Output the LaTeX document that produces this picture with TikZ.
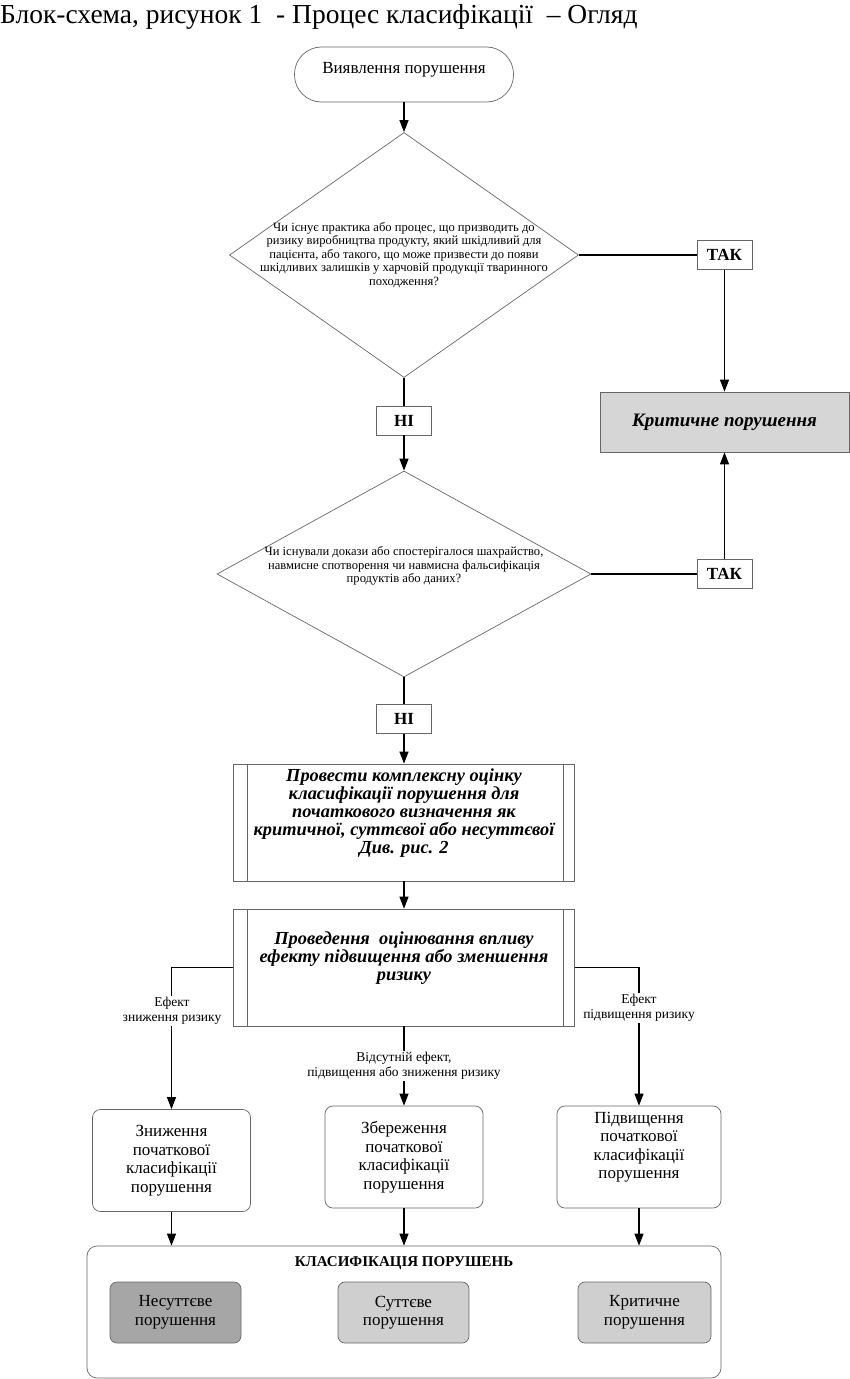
\documentclass[tikz,border=0pt]{standalone}
\usepackage{fontspec}
\setmainfont{Liberation Serif}
\usetikzlibrary{shapes.geometric,arrows.meta,calc}
\newcommand\fsz[2]{\fontsize{#1}{#2}\selectfont}
\definecolor{critgray}{HTML}{D6D6D6}
\definecolor{darkbox}{HTML}{A6A6A6}
\definecolor{lightbox}{HTML}{CFCFCF}
\definecolor{edgegray}{HTML}{666666}
\tikzset{
  conn/.style={draw=black, line width=1.1pt},
  arr/.style={conn, -{Triangle[length=12pt,width=9pt]}},
  edge/.style={draw=edgegray, line width=0.7pt},
  dia/.style={shape=diamond, edge, inner sep=0pt},
  tagbox/.style={rectangle, edge, fill=white, inner sep=0pt, minimum width=55pt, minimum height=29pt, font=\fsz{17}{19}\bfseries},
  procbox/.style={rectangle, edge, inner sep=0pt, minimum width=341pt, minimum height=117pt},
  rbox/.style={rectangle, rounded corners=8pt, edge, inner sep=0pt, minimum width=158pt, minimum height=102pt},
  clsbox/.style={rectangle, rounded corners=7pt, edge, inner sep=0pt, minimum width=131pt, minimum height=61pt, align=center, font=\fsz{17}{18.5}},
  dtext/.style={align=center, inner sep=0pt, font=\fsz{12.6}{13.4}},
  ptext/.style={align=center, inner sep=0pt, font=\fsz{18.4}{18.2}\bfseries\itshape},
  btext/.style={align=center, inner sep=0pt, font=\fsz{17}{18.5}},
  lbl/.style={align=center, inner sep=1pt, fill=white, font=\fsz{13.5}{15.5}},
}
\begin{document}
\begin{tikzpicture}[x=1pt,y=-1pt]
\useasboundingbox (0,0) rectangle (850,1379);
% title
\node[anchor=base west, inner sep=0pt, font=\fsz{27.5}{30}] (title) at (0,23) {Блок-схема, рисунок 1\ \ - Процес класифікації\ \ – Огляд};
% start
\node[rectangle, rounded corners=27pt, edge, minimum width=219pt, minimum height=55pt, inner sep=0pt] (start) at (404,74.5) {};
\node[inner sep=0pt, font=\fsz{17}{19}] (startt) at (404,70) {Виявлення порушення};
% diamond 1
\node[dia, minimum width=349pt, minimum height=245pt] (d1) at (404,255) {};
\node[dtext] (d1t) at (404,255) {Чи існує практика або процес, що призводить до\\ризику виробництва продукту, який шкідливий для\\пацієнта, або такого, що може призвести до появи\\шкідливих залишків у харчовій продукції тваринного\\походження?};
\node[tagbox] (tak1) at (724.5,255) {ТАК};
\node[rectangle, edge, fill=critgray, minimum width=249pt, minimum height=60pt, inner sep=0pt, font=\fsz{19}{21}\bfseries\itshape] (crit) at (724.5,422) {Критичне порушення};
\node[tagbox] (ni1) at (404,420.5) {НІ};
% diamond 2
\node[dia, minimum width=374pt, minimum height=206pt] (d2) at (404,574) {};
\node[dtext] (d2t) at (404,566) {Чи існували докази або спостерігалося шахрайство,\\навмисне спотворення чи навмисна фальсифікація\\продуктів або даних?};
\node[tagbox] (tak2) at (724.5,574) {ТАК};
\node[tagbox] (ni2) at (404,719) {НІ};
% process 1
\node[procbox] (p1) at (404,822.5) {};
\draw[edge] ([xshift=14pt]p1.north west) -- ([xshift=14pt]p1.south west);
\draw[edge] ([xshift=-12pt]p1.north east) -- ([xshift=-12pt]p1.south east);
\node[ptext] (p1t) at (404,813) {Провести комплексну оцінку\\класифікації порушення для\\початкового визначення як\\критичної, суттєвої або несуттєвої\\Див. рис. 2};
% process 2
\node[procbox] (p2) at (404,967.5) {};
\draw[edge] ([xshift=14pt]p2.north west) -- ([xshift=14pt]p2.south west);
\draw[edge] ([xshift=-12pt]p2.north east) -- ([xshift=-12pt]p2.south east);
\node[ptext] (p2t) at (404,958) {Проведення\ \ оцінювання впливу\\ефекту підвищення або зменшення\\ризику};
% result boxes
\node[rbox] (b1) at (171.5,1160.5) {};
\node[btext] (b1t) at (171.5,1160.5) {Зниження\\початкової\\класифікації\\порушення};
\node[rbox] (b2) at (404,1157) {};
\node[btext] (b2t) at (404,1157) {Збереження\\початкової\\класифікації\\порушення};
\node[rbox, minimum width=164pt] (b3) at (639,1157) {};
\node[btext] (b3t) at (639,1147) {Підвищення\\початкової\\класифікації\\порушення};
% container
\node[rectangle, rounded corners=10pt, edge, minimum width=634pt, minimum height=132pt, inner sep=0pt] (cont) at (404,1312) {};
\node[inner sep=0pt, font=\fsz{15}{17}\bfseries] (contt) at (404,1263) {КЛАСИФІКАЦІЯ ПОРУШЕНЬ};
\node[clsbox, fill=darkbox] (c1) at (175.5,1312.5) {Несуттєве\\порушення};
\node[clsbox, fill=lightbox] (c2) at (403.5,1312.5) {Суттєве\\порушення};
\node[clsbox, fill=lightbox, minimum width=133pt] (c3) at (644.5,1312.5) {Критичне\\порушення};
% connectors
\draw[arr] (start.south) -- (d1.north);
\draw[conn] (d1.east) -- (tak1.west);
\draw[arr] (tak1.south) -- (crit.north);
\draw[conn] (d1.south) -- (ni1.north);
\draw[arr] (ni1.south) -- (d2.north);
\draw[conn] (d2.east) -- (tak2.west);
\draw[arr] (tak2.north) -- (crit.south);
\draw[conn] (d2.south) -- (ni2.north);
\draw[arr] (ni2.south) -- (p1.north);
\draw[arr] (p1.south) -- (p2.north);
\draw[arr] (p2.west) -| (b1.north);
\draw[arr] (p2.south) -- (b2.north);
\draw[arr] (p2.east) -| (b3.north);
\draw[arr] (b1.south) -- (b1.south |- cont.north);
\draw[arr] (b2.south) -- (b2.south |- cont.north);
\draw[arr] (b3.south) -- (b3.south |- cont.north);
% labels
\node[lbl] (l1) at (172,1011) {Ефект\\зниження ризику};
\node[lbl] (l2) at (404,1066) {Відсутній ефект,\\підвищення або зниження ризику};
\node[lbl] (l3) at (639,1008) {Ефект\\підвищення ризику};
\end{tikzpicture}
\end{document}
